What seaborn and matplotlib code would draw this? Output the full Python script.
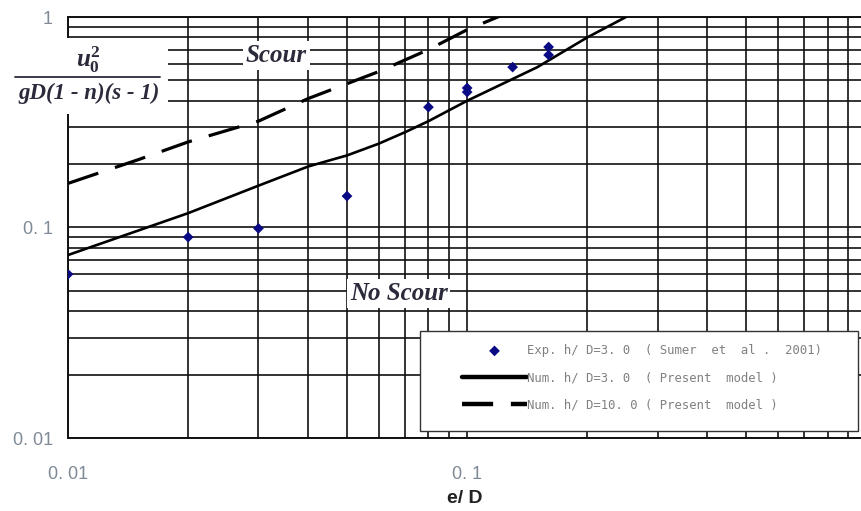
import numpy as np
import pandas as pd
import matplotlib.pyplot as plt
import seaborn as sns
from matplotlib.patches import Rectangle
from matplotlib.lines import Line2D
from matplotlib.ticker import LogLocator, NullFormatter, FixedLocator, FixedFormatter

# experimental points (Sumer et al. 2001), h/D = 3
exp_x = [0.01, 0.02, 0.03, 0.05, 0.08, 0.1, 0.1, 0.13, 0.16, 0.16]
exp_y = [0.060, 0.090, 0.099, 0.141, 0.373, 0.46, 0.44, 0.578, 0.72, 0.66]

# numerical, h/D = 3
num3_x = [0.01, 0.02, 0.03, 0.04, 0.05, 0.06, 0.07, 0.08, 0.1, 0.15, 0.2, 0.25]
num3_y = [0.074, 0.117, 0.158, 0.195, 0.22, 0.25, 0.284, 0.32, 0.40, 0.578, 0.80, 1.0]

# numerical, h/D = 10
num10_x = [0.01, 0.015, 0.02, 0.03, 0.04, 0.06, 0.08, 0.1, 0.13]
num10_y = [0.162, 0.21, 0.255, 0.32, 0.41, 0.55, 0.70, 0.87, 1.07]

labels = ['Exp. h/ D=3. 0  ( Sumer  et  al .  2001)',
          'Num. h/ D=3. 0  ( Present  model )',
          'Num. h/ D=10. 0 ( Present  model )']

sns.set_style('white')
plt.rcParams['font.family'] = ['Liberation Sans', 'DejaVu Sans']
plt.rcParams['mathtext.fontset'] = 'custom'
plt.rcParams['mathtext.it'] = 'Liberation Serif:italic:bold'
plt.rcParams['mathtext.rm'] = 'Liberation Serif:bold'

exp = pd.DataFrame({'x': exp_x, 'y': exp_y})
n3 = pd.DataFrame({'x': num3_x, 'y': num3_y})
n10 = pd.DataFrame({'x': num10_x, 'y': num10_y})

fig = plt.figure(figsize=(8.61, 5.11), dpi=100)
ax = fig.add_axes([68/861, 73/511, 793/861, 421/511])

sns.lineplot(data=n3, x='x', y='y', ax=ax, color='black', lw=1.9,
             sort=False, estimator=None, label=labels[1], zorder=3)
sns.lineplot(data=n10, x='x', y='y', ax=ax, color='black', lw=2.3,
             sort=False, estimator=None, label=labels[2], zorder=3)
ax.lines[1].set_dashes((10, 5.5))
sns.scatterplot(data=exp, x='x', y='y', ax=ax, color='#0a0a85', marker='D',
                s=30, edgecolor='none', label=labels[0], zorder=4)

ax.set_xscale('log')
ax.set_yscale('log')
ax.set_xlim(0.01, 0.97)
ax.set_ylim(0.01, 1)

ax.xaxis.set_major_locator(FixedLocator([0.01, 0.1]))
ax.xaxis.set_major_formatter(FixedFormatter(['0. 01', '0. 1']))
ax.yaxis.set_major_locator(FixedLocator([0.01, 0.1, 1]))
ax.yaxis.set_major_formatter(FixedFormatter(['0. 01', '0. 1', '1']))
for a in (ax.xaxis, ax.yaxis):
    a.set_minor_locator(LogLocator(base=10, subs=np.arange(2, 10)))
    a.set_minor_formatter(NullFormatter())

ax.grid(which='both', color='#111111', lw=1.2)
ax.set_axisbelow(True)
ax.tick_params(which='both', length=0, labelcolor='#7f8a96', labelsize=13)
ax.tick_params(axis='x', pad=20)
ax.tick_params(axis='y', pad=11)
ax.spines['right'].set_visible(False)
for side in ['left', 'bottom', 'top']:
    ax.spines[side].set_color('#111111')
    ax.spines[side].set_linewidth(1.4)

ax.set_xlabel('e/ D', fontsize=14, fontweight='bold', color='#222222', labelpad=5)
ax.set_ylabel('')

# legend frame drawn as a box, entries placed inside it
ax.add_patch(Rectangle((0.444, 0.017), 0.552, 0.238, transform=ax.transAxes,
                       facecolor='white', edgecolor='#333333', lw=1.0, zorder=5))
h, l = ax.get_legend_handles_labels()
order = [l.index(t) for t in labels]
leg = ax.legend([h[i] for i in order], [l[i] for i in order],
                loc='upper left', bbox_to_anchor=(0.497, 0.223),
                prop={'family': 'DejaVu Sans Mono', 'size': 8.8},
                handlelength=5.3, labelspacing=1.17, borderpad=0,
                handletextpad=0.0, frameon=False, borderaxespad=0)
leg.set_zorder(6)
for t in leg.get_texts():
    t.set_color('#808080')
leg_lines = leg.get_lines()
for ln in leg_lines:
    ln.set_linewidth(3.2)
leg_lines[-1].set_dashes((7, 4))

txt_style = dict(family='Liberation Serif', style='italic', fontweight='bold',
                 color='#2a2a3a', fontsize=18, ha='center', va='center',
                 transform=ax.transAxes, zorder=6,
                 bbox=dict(facecolor='white', edgecolor='none', pad=2))
ax.text(0.263, 0.909, 'Scour', **txt_style)
ax.text(0.417, 0.343, 'No Scour', **txt_style)

# y-axis label as a fraction over a white patch
fig.patches.append(Rectangle((12/861, 1 - 114/511), 156/861, 76/511,
                             transform=fig.transFigure, facecolor='white',
                             edgecolor='none', zorder=5))
fig.text(88/861, 1 - 60/511, r'$u_0^2$', fontsize=18, color='#2a2a3a',
         ha='center', va='center', zorder=6)
fig.lines.append(Line2D([15/861, 160/861], [1 - 77/511, 1 - 77/511],
                        transform=fig.transFigure, color='#2a2a3a', lw=1.3, zorder=6))
fig.text(89/861, 1 - 93/511, 'gD(1 - n)(s - 1)', family='Liberation Serif',
         style='italic', fontweight='bold', fontsize=16.5, color='#2a2a3a',
         ha='center', va='center', zorder=6)

fig.savefig('out.png', dpi=100)
